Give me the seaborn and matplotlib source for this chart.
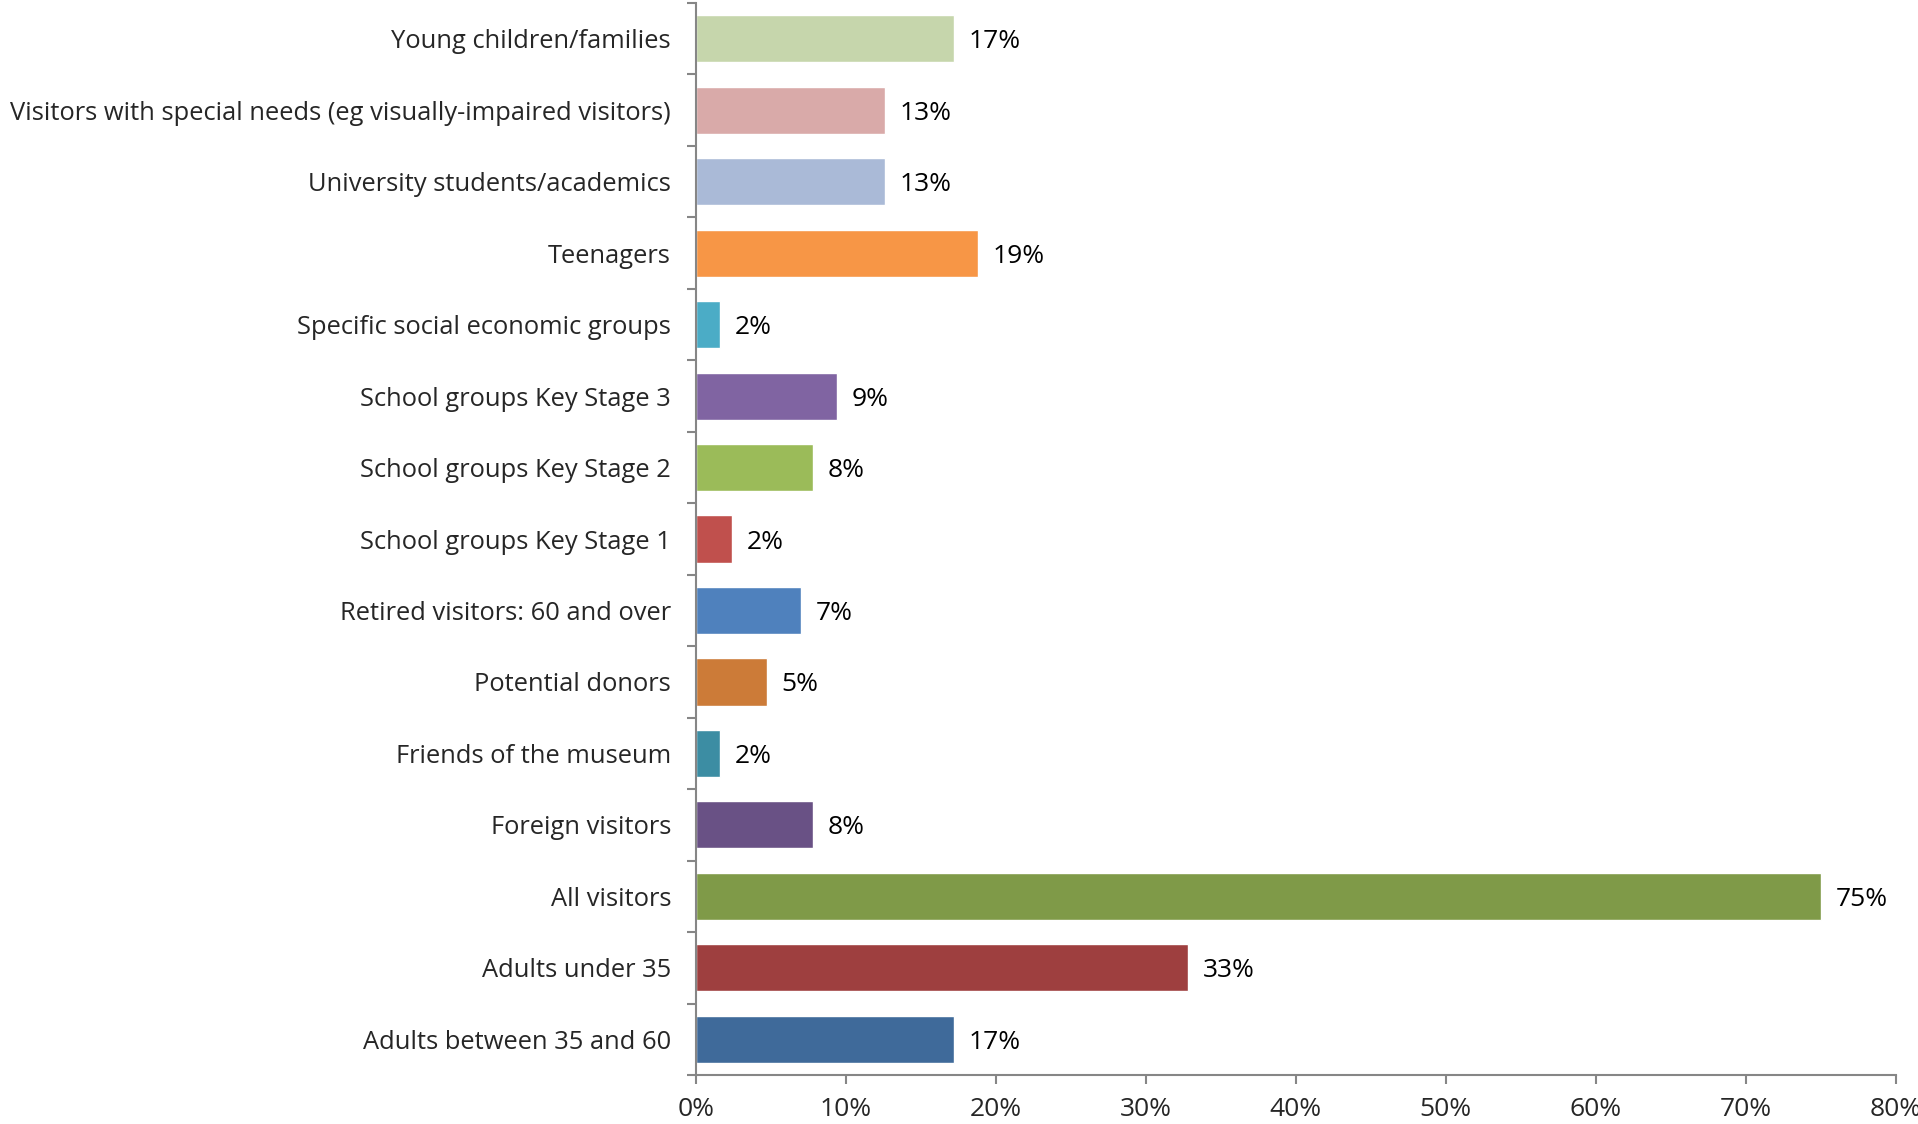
import matplotlib
matplotlib.use("Agg")
import matplotlib.pyplot as plt
import pandas as pd
import seaborn as sns
from matplotlib.ticker import MultipleLocator, PercentFormatter

# %% Data (top to bottom as in the chart)
groups = [
    "Young children/families",
    "Visitors with special needs (eg visually-impaired visitors)",
    "University students/academics",
    "Teenagers",
    "Specific social economic groups",
    "School groups Key Stage 3",
    "School groups Key Stage 2",
    "School groups Key Stage 1",
    "Retired visitors: 60 and over",
    "Potential donors",
    "Friends of the museum",
    "Foreign visitors",
    "All visitors",
    "Adults under 35",
    "Adults between 35 and 60",
]
shares = [17.2, 12.6, 12.6, 18.8, 1.6, 9.4, 7.8, 2.4, 7.0, 4.7, 1.6, 7.8, 75.0, 32.8, 17.2]
colours = [
    "#C6D6AC", "#D9AAA9", "#AABAD7", "#F79646", "#4BACC6",
    "#8064A2", "#9BBB59", "#C0504D", "#4F81BD", "#CC7B38",
    "#3C8DA3", "#695185", "#7F9A48", "#9E3F3F", "#3F6A9A",
]

df = pd.DataFrame({"group": groups, "share": shares})

# %% Plot
sns.set_theme(style="white")
plt.rcParams["font.family"] = ["Open Sans", "DejaVu Sans"]

fig = plt.figure(figsize=(19.18, 11.24), dpi=100)
ax = fig.add_axes([0.3629, 0.0436, 0.6255, 0.9537])

sns.barplot(
    data=df, x="share", y="group", hue="group", order=groups,
    palette=dict(zip(groups, colours)), width=0.66, legend=False,
    saturation=1, ax=ax,
)

for patch, val in zip(ax.patches, shares):
    y = patch.get_y() + patch.get_height() / 2
    ax.text(patch.get_width() + 1.0, y, f"{int(val + 0.5)}%",
            va="center_baseline", ha="left", fontsize=19, color="black")

ax.set_xlim(0, 80)
ax.set_ylim(len(groups) - 0.5, -0.5)
ax.xaxis.set_major_locator(MultipleLocator(10))
ax.xaxis.set_major_formatter(PercentFormatter(decimals=0))
ax.set_yticks([i + 0.5 for i in range(-1, len(groups))], minor=True)
ax.tick_params(axis="y", which="major", length=0, pad=18, labelsize=18.4)
ax.tick_params(axis="y", which="minor", length=6.5, width=1.5, color="#868686", left=True)
ax.tick_params(axis="x", length=6.5, width=1.5, color="#868686", pad=9, labelsize=19, bottom=True)
ax.set_xlabel("")
ax.set_ylabel("")
sns.despine(ax=ax, top=True, right=True)
for side in ["left", "bottom"]:
    ax.spines[side].set_color("#868686")
    ax.spines[side].set_linewidth(1.5)

fig.savefig("out.png", dpi=100)
